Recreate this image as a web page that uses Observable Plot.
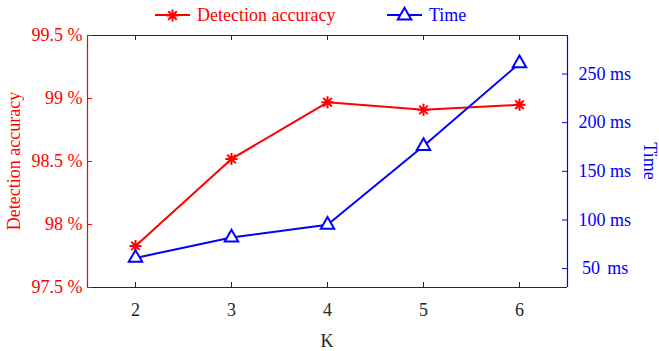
<!DOCTYPE html>
<html><head><meta charset="utf-8">
<script src="https://cdn.jsdelivr.net/npm/d3@7"></script>
<script src="https://cdn.jsdelivr.net/npm/@observablehq/plot@0.6"></script>
<style>body{margin:0;background:#fff} #chart{width:659px;height:351px}</style>
</head><body><div id="chart"></div>
<script>
const K = [2, 3, 4, 5, 6];
const accuracy = [97.83, 98.52, 98.97, 98.91, 98.95];
const timeMs = [61, 82, 95, 176, 261];
const accTicks = [97.5, 98, 98.5, 99, 99.5];
const timeTicks = [50, 100, 150, 200, 250];
const accDomain = [97.5, 99.5];
const timeDomain = [30.6, 289.6];
const xDomain = [1.5, 6.5];

const toAcc = t => accDomain[0] + (t - timeDomain[0]) / (timeDomain[1] - timeDomain[0]) * (accDomain[1] - accDomain[0]);
const fromAcc = a => timeDomain[0] + (a - accDomain[0]) / (accDomain[1] - accDomain[0]) * (timeDomain[1] - timeDomain[0]);

const RED = "#ff0000", BLUE = "#0000ff", DARK = "#262626";
const FONT = "'Liberation Serif', 'Times New Roman', serif";

const asterisk = {
  draw(ctx, size) {
    const r = Math.sqrt(size / Math.PI), d = r * Math.SQRT1_2;
    ctx.moveTo(-r, 0); ctx.lineTo(r, 0);
    ctx.moveTo(0, -r); ctx.lineTo(0, r);
    ctx.moveTo(-d, -d); ctx.lineTo(d, d);
    ctx.moveTo(-d, d); ctx.lineTo(d, -d);
  }
};

const accData = K.map((k, i) => ({k, v: accuracy[i]}));
const timeData = K.map((k, i) => ({k, v: toAcc(timeMs[i])}));

const W = 659, H = 351, mL = 87, mR = 92, mT = 35, mB = 64;
const innerW = W - mL - mR, innerH = H - mT - mB, tk = 5;

const plot = Plot.plot({
  width: W, height: H,
  marginLeft: mL, marginRight: mR, marginTop: mT, marginBottom: mB,
  style: {fontFamily: FONT, fontSize: "18px", background: "white", color: DARK},
  x: {domain: xDomain},
  y: {domain: accDomain},
  marks: [
    // frame lines
    Plot.ruleY([accDomain[1]], {stroke: DARK, strokeWidth: 1}),
    Plot.ruleY([accDomain[0]], {stroke: DARK, strokeWidth: 1}),
    Plot.ruleX([xDomain[0]], {stroke: RED, strokeWidth: 1.2}),
    Plot.ruleX([xDomain[1]], {stroke: BLUE, strokeWidth: 1.2}),
    // inward ticks
    Plot.ruleX(K, {stroke: DARK, insetTop: innerH - tk}),
    Plot.ruleX(K, {stroke: DARK, insetBottom: innerH - tk}),
    Plot.ruleY(accTicks, {stroke: RED, insetRight: innerW - tk}),
    Plot.ruleY(timeTicks.map(toAcc), {stroke: BLUE, insetLeft: innerW - tk}),
    // axes
    Plot.axisX(K, {anchor: "bottom", tickSize: 0, tickPadding: 16, color: DARK, label: null, tickFormat: d => `${d}`}),
    Plot.axisY(accTicks, {anchor: "left", tickSize: 0, tickPadding: 5, color: RED, label: null, tickFormat: d => `${d}\u00a0%`}),
    Plot.axisY(timeTicks.map(toAcc), {anchor: "right", tickSize: 0, tickPadding: 11, color: BLUE, label: null,
      tickFormat: d => { const ms = Math.round(fromAcc(d)); return ms < 100 ? `\u2009${ms}\u2009\u2009ms` : `${ms}\u00a0ms`; }}),
    // series
    Plot.line(accData, {x: "k", y: "v", stroke: RED, strokeWidth: 2}),
    Plot.dot(accData, {x: "k", y: "v", symbol: asterisk, r: 6, stroke: RED, fill: "none", strokeWidth: 2}),
    Plot.line(timeData, {x: "k", y: "v", stroke: BLUE, strokeWidth: 2}),
    Plot.dot(timeData, {x: "k", y: "v", symbol: "triangle", r: 5, stroke: BLUE, fill: "white", strokeWidth: 2})
  ]
});

const svg = d3.select(plot);
// axis titles
const titles = svg.append("g").attr("font-family", FONT).attr("font-size", 18).attr("text-anchor", "middle");
titles.append("text").attr("transform", `translate(20,${mT + innerH / 2}) rotate(-90)`).attr("fill", RED).text("Detection accuracy");
titles.append("text").attr("transform", `translate(644,${mT + innerH / 2}) rotate(90)`).attr("fill", BLUE).text("Time");
titles.append("text").attr("x", mL + innerW / 2).attr("y", 347).attr("fill", DARK).text("K");

// legend in top margin
const lg = svg.append("g").attr("font-family", FONT).attr("font-size", 18).attr("text-anchor", "start");
const items = [
  {label: "Detection accuracy", color: RED, x0: 155, sym: asterisk, size: Math.PI * 36, fill: "none", sw: 2},
  {label: "Time", color: BLUE, x0: 387, sym: d3.symbolTriangle, size: Math.PI * 25, fill: "white", sw: 2}
];
for (const it of items) {
  const g = lg.append("g");
  g.append("line").attr("x1", it.x0).attr("x2", it.x0 + 35).attr("y1", 15).attr("y2", 15)
    .attr("stroke", it.color).attr("stroke-width", 2);
  g.append("path").attr("d", d3.symbol(it.sym, it.size)()).attr("transform", `translate(${it.x0 + 17.5},15.5)`)
    .attr("stroke", it.color).attr("fill", it.fill).attr("stroke-width", it.sw);
  g.append("text").attr("x", it.x0 + 42).attr("y", 21).attr("fill", it.color).text(it.label);
}

document.getElementById("chart").append(plot);
</script>
</body></html>
